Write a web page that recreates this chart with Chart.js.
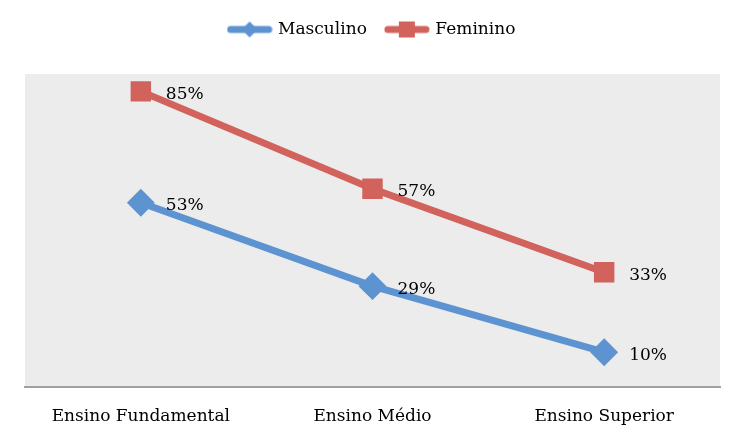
<!DOCTYPE html>
<html>
<head>
<meta charset="utf-8">
<script src="https://cdn.jsdelivr.net/npm/chart.js@4"></script>
<style>
    html, body { margin: 0; padding: 0; background: #ffffff; }
    #wrap { width: 745px; height: 436px; }
</style>
</head>
<body>
<div id="wrap"><canvas id="chart"></canvas></div>
<script>
// Chart data
const categories = ["Ensino Fundamental", "Ensino Médio", "Ensino Superior"];
const masculino = [53, 29, 10];
const feminino = [85, 57, 33];

const blue = "#5d93d0";
const red = "#d1625c";
const fontFamily = "'DejaVu Serif', serif";

// Legend symbol: a short line with the series marker on it
function legendIcon(color, shape) {
    const c = document.createElement("canvas");
    c.width = 46;
    c.height = 18;
    const g = c.getContext("2d");
    g.strokeStyle = color;
    g.lineWidth = 7;
    g.lineCap = "round";
    g.beginPath();
    g.moveTo(4, 9);
    g.lineTo(42, 9);
    g.stroke();
    g.fillStyle = color;
    if (shape === "diamond") {
        g.beginPath();
        g.moveTo(23, 1);
        g.lineTo(31, 9);
        g.lineTo(23, 17);
        g.lineTo(15, 9);
        g.closePath();
        g.fill();
    } else {
        g.fillRect(15, 1, 16, 16);
    }
    return c;
}

// Gray plot area background
const plotBackground = {
    id: "plotBackground",
    beforeDraw(chart) {
        const a = chart.chartArea;
        const ctx = chart.ctx;
        ctx.save();
        ctx.fillStyle = "#ececec";
        ctx.fillRect(a.left, a.top, a.right - a.left, a.bottom - a.top);
        ctx.restore();
    }
};

// Extra room under the legend
const legendSpace = {
    id: "legendSpace",
    beforeInit(chart) {
        const fit = chart.legend.fit;
        chart.legend.fit = function () {
            fit.bind(chart.legend)();
            this.height += 26;
        };
    }
};

// Percent labels right of each point
const pointLabels = {
    id: "pointLabels",
    afterDatasetsDraw(chart) {
        const ctx = chart.ctx;
        ctx.save();
        ctx.font = "17px " + fontFamily;
        ctx.fillStyle = "#000000";
        ctx.textAlign = "left";
        ctx.textBaseline = "middle";
        chart.data.datasets.forEach((ds, i) => {
            chart.getDatasetMeta(i).data.forEach((pt, j) => {
                ctx.fillText(ds.data[j] + "%", pt.x + 25, pt.y + 3);
            });
        });
        ctx.restore();
    }
};

const ctx = document.querySelector("#chart").getContext("2d");

new Chart(ctx, {
    type: "line",
    data: {
        labels: categories,
        datasets: [{
            label: "Masculino",
            data: masculino,
            borderColor: blue,
            backgroundColor: blue,
            borderWidth: 7,
            pointStyle: "rectRot",
            pointRadius: 9,
            pointHoverRadius: 9,
            tension: 0,
            legendIcon: legendIcon(blue, "diamond")
        }, {
            label: "Feminino",
            data: feminino,
            borderColor: red,
            backgroundColor: red,
            borderWidth: 7,
            pointStyle: "rect",
            pointRadius: 9.5,
            pointHoverRadius: 9.5,
            tension: 0,
            legendIcon: legendIcon(red, "square")
        }]
    },
    options: {
        responsive: true,
        maintainAspectRatio: false,
        animation: false,
        layout: {
            padding: { left: 25, right: 25, top: 1, bottom: 0 }
        },
        plugins: {
            tooltip: { enabled: false },
            legend: {
                position: "top",
                labels: {
                    usePointStyle: true,
                    pointStyleWidth: 40,
                    color: "#000000",
                    font: { family: fontFamily, size: 17 },
                    padding: 20,
                    generateLabels(chart) {
                        return chart.data.datasets.map((ds, i) => ({
                            text: ds.label,
                            pointStyle: ds.legendIcon,
                            fillStyle: ds.borderColor,
                            strokeStyle: ds.borderColor,
                            lineWidth: 0,
                            hidden: false,
                            datasetIndex: i
                        }));
                    }
                }
            }
        },
        scales: {
            x: {
                offset: true,
                grid: { display: false },
                border: { color: "#a0a0a0", width: 2 },
                ticks: {
                    color: "#000000",
                    font: { family: fontFamily, size: 17 },
                    padding: 11,
                    maxRotation: 0
                },
                afterFit(scale) {
                    scale.height = 49;
                }
            },
            y: {
                display: false,
                min: 0,
                max: 90
            }
        }
    },
    plugins: [plotBackground, legendSpace, pointLabels]
});
</script>
</body>
</html>
